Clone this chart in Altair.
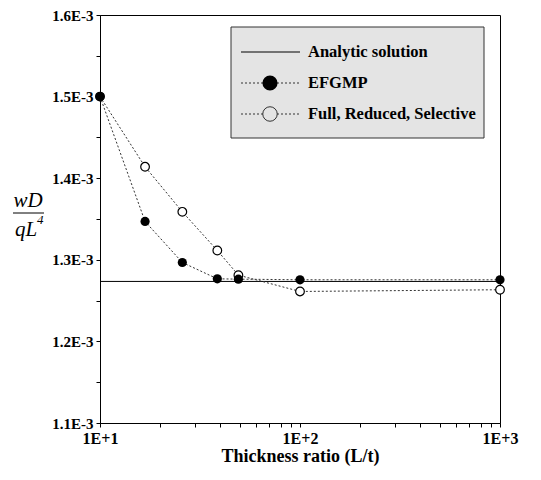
import altair as alt
import pandas as pd

# ---- data ----
ratio = [10, 16.8, 25.8, 38.6, 49.2, 100, 1000]
efgmp = [1.500e-3, 1.347e-3, 1.2967e-3, 1.2767e-3, 1.2763e-3, 1.2755e-3, 1.2755e-3]
frs = [1.500e-3, 1.414e-3, 1.3588e-3, 1.3114e-3, 1.2812e-3, 1.2612e-3, 1.2633e-3]
analytic_x = [10, 1000]
analytic_y = [1.2735e-3, 1.2735e-3]

x_ticks = [10, 20, 30, 40, 50, 60, 70, 80, 90, 100, 200, 300, 400, 500, 600, 700, 800, 900, 1000]
y_ticks = [1.10e-3, 1.15e-3, 1.20e-3, 1.25e-3, 1.30e-3, 1.35e-3, 1.40e-3, 1.45e-3, 1.50e-3, 1.55e-3, 1.60e-3]

legend_labels = ["Analytic solution", "EFGMP", "Full, Reduced, Selective"]

FONT = "Liberation Serif"
W, H = 400, 408

df_e = pd.DataFrame({"x": ratio, "y": efgmp})
df_f = pd.DataFrame({"x": ratio, "y": frs})
df_a = pd.DataFrame({"x": analytic_x, "y": analytic_y})

xs = alt.Scale(type="log", domain=[10, 1000], nice=False)
ys = alt.Scale(domain=[1.1e-3, 1.6e-3], nice=False, zero=False)

xaxis = alt.Axis(
    values=x_ticks, title="Thickness ratio (L/t)",
    labelExpr="datum.value == 10 ? '1E+1' : datum.value == 100 ? '1E+2' : datum.value == 1000 ? '1E+3' : ''",
    labelFont=FONT, labelFontSize=16, labelFontWeight="bold", labelColor="black",
    titleFont=FONT, titleFontSize=18, titleFontWeight="bold", titleColor="black",
    titlePadding=1, labelPadding=3, tickSize=4, tickColor="black", domainColor="black",
    grid=False, labelFlush=False, labelOverlap=False,
)
yaxis = alt.Axis(
    values=y_ticks, title=None,
    labelExpr="round(datum.value*2e4) % 2 == 0 ? format(datum.value*1e3, '.1f') + 'E-3' : ''",
    labelFont=FONT, labelFontSize=15, labelFontWeight="bold", labelColor="black",
    labelPadding=3, tickSize=4, tickColor="black", domainColor="black",
    grid=False, labelFlush=False, labelOverlap=False,
)

X = alt.X("x:Q", scale=xs, axis=xaxis)
Y = alt.Y("y:Q", scale=ys, axis=yaxis)

analytic = alt.Chart(df_a).mark_line(color="black", strokeWidth=1).encode(x=X, y=Y)

frs_line = alt.Chart(df_f).mark_line(color="#333333", strokeWidth=1, strokeDash=[2, 2]).encode(x=X, y=Y)
frs_pts = alt.Chart(df_f).mark_point(shape="circle", filled=False, fill="white", fillOpacity=1,
                                     color="black", strokeWidth=1.2, size=75, opacity=1).encode(x=X, y=Y)
efg_line = alt.Chart(df_e).mark_line(color="#333333", strokeWidth=1, strokeDash=[2, 2]).encode(x=X, y=Y)
efg_pts = alt.Chart(df_e).mark_point(shape="circle", filled=True, color="black", size=85, opacity=1).encode(x=X, y=Y)

one = pd.DataFrame({"a": [0]})

# ---- legend box (manual) ----
LX0, LX1, LY0, LY1 = 131, 384, 12, 123  # relative to plot area
box = alt.Chart(one).mark_rect(fill="#e4e4e4", stroke="#333333", strokeWidth=1).encode(
    x=alt.value(LX0), x2=alt.value(LX1), y=alt.value(LY0), y2=alt.value(LY1))
rows_y = [37, 68, 99]
leg_a = alt.Chart(one).mark_rule(color="black", strokeWidth=1).encode(
    x=alt.value(141), x2=alt.value(200), y=alt.value(rows_y[0]))
leg_b_line = alt.Chart(one).mark_rule(color="#333333", strokeWidth=1, strokeDash=[2, 2]).encode(
    x=alt.value(141), x2=alt.value(200), y=alt.value(rows_y[1]))
leg_b_pt = alt.Chart(one).mark_point(shape="circle", filled=True, color="black", size=230, opacity=1).encode(
    x=alt.value(170), y=alt.value(rows_y[1]))
leg_c_line = alt.Chart(one).mark_rule(color="#333333", strokeWidth=1, strokeDash=[2, 2]).encode(
    x=alt.value(141), x2=alt.value(200), y=alt.value(rows_y[2]))
leg_c_pt = alt.Chart(one).mark_point(shape="circle", filled=False, fill="#e4e4e4", fillOpacity=1,
                                     color="#333333", strokeWidth=1, size=210, opacity=1).encode(
    x=alt.value(170), y=alt.value(rows_y[2]))
leg_texts = [
    alt.Chart(one).mark_text(text=lab, font=FONT, fontSize=16.5, fontWeight="bold", align="left",
                             baseline="middle", color="black").encode(x=alt.value(208), y=alt.value(ry))
    for lab, ry in zip(legend_labels, rows_y)
]

# ---- y-axis title as a fraction ----
num = alt.Chart(one).mark_text(text="wD", font=FONT, fontSize=21, fontStyle="italic", align="center", baseline="alphabetic", color="black").encode(
    x=alt.value(-72), y=alt.value(192))
bar = alt.Chart(one).mark_rule(color="black", strokeWidth=1).encode(
    x=alt.value(-87), x2=alt.value(-56), y=alt.value(198))
den = alt.Chart(one).mark_text(text="qL", font=FONT, fontSize=21, fontStyle="italic", align="center", baseline="alphabetic", color="black").encode(
    x=alt.value(-74), y=alt.value(221))
sup = alt.Chart(one).mark_text(text="4", font=FONT, fontSize=13, fontStyle="italic", align="left", baseline="alphabetic", color="black").encode(
    x=alt.value(-63), y=alt.value(209))

chart = alt.layer(
    analytic, frs_line, frs_pts, efg_line, efg_pts,
    box, leg_a, leg_b_line, leg_b_pt, leg_c_line, leg_c_pt, *leg_texts,
    num, bar, den, sup,
).properties(
    width=W, height=H,
    autosize=alt.AutoSizeParams(type="none"),
    padding={"left": 100, "top": 15, "right": 41, "bottom": 57},
    background="white",
).configure_view(stroke="black", strokeWidth=1)

chart.save("out.html", embed_options={"renderer": "svg", "actions": False})
